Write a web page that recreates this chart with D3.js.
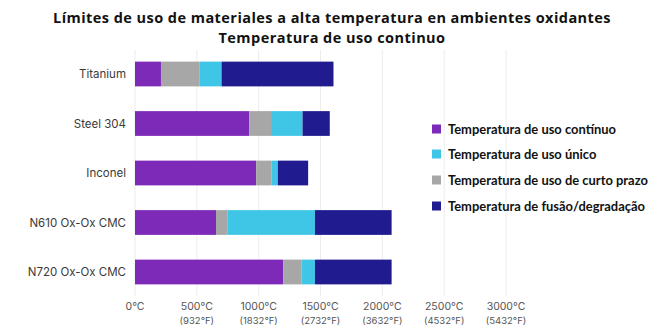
<!DOCTYPE html>
<html>
<head>
<meta charset="utf-8">
<script src="https://cdn.jsdelivr.net/npm/d3@7"></script>
<style>
  html, body { margin: 0; padding: 0; background: #fff; }
  svg { display: block; }
</style>
</head>
<body>
<svg id="chart" width="665" height="333"></svg>
<script>
// Materials and their temperature limits (°C), each limit ends one segment of the bar
const materials = ["Titanium", "Steel 304", "Inconel", "N610 Ox-Ox CMC", "N720 Ox-Ox CMC"];
const continuousUse = [210, 925, 980, 655, 1200];
const shortTermUse  = [520, 1100, 1105, 750, 1345];
const singleUse     = [700, 1355, 1155, 1455, 1455];
const meltingPoint  = [1605, 1575, 1400, 2075, 2075];

const tickValues = [0, 500, 1000, 1500, 2000, 2500, 3000];
const tickCelsius = ["0°C", "500°C", "1000°C", "1500°C", "2000°C", "2500°C", "3000°C"];
const tickFahrenheit = ["", "(932°F)", "(1832°F)", "(2732°F)", "(3632°F)", "(4532°F)", "(5432°F)"];

const seriesNames = [
  "Temperatura de uso contínuo",
  "Temperatura de uso único",
  "Temperatura de uso de curto prazo",
  "Temperatura de fusão/degradação"
];
const colors = {
  continuous: "#7e2ab8",
  single: "#3fc6e6",
  shortTerm: "#a7a7a7",
  melting: "#201b8f"
};

const svg = d3.select("#chart");

// Shrink or grow a text group's font so its widest line spans the given width
function fitWidth(group, selection, width) {
  const base = parseFloat(group.attr("font-size"));
  let widest = 0;
  selection.each(function () { widest = Math.max(widest, this.getComputedTextLength()); });
  if (widest > 0) group.attr("font-size", base * width / widest);
}

// Spread a line's letters so it spans the given width at its current size
function spreadTo(textSel, width) {
  const node = textSel.node();
  const len = node.getComputedTextLength();
  const n = node.textContent.length;
  if (n > 1) textSel.attr("letter-spacing", (width - len) / n);
}

// Title
const title = svg.append("g")
  .attr("font-family", "'Open Sans', Roboto, sans-serif")
  .attr("font-weight", "bold")
  .attr("font-size", 14.5)
  .attr("fill", "#111")
  .attr("text-anchor", "middle");
const t1 = title.append("text").attr("x", 332).attr("y", 23)
  .text("Límites de uso de materiales a alta temperatura en ambientes oxidantes");
const t2 = title.append("text").attr("x", 332).attr("y", 43)
  .text("Temperatura de uso continuo");
spreadTo(t1, 558);
t2.attr("letter-spacing", t1.attr("letter-spacing"));

const x = d3.scaleLinear().domain([0, 3000]).range([135, 506]);
const y = d3.scaleBand().domain(materials).range([50, 296])
  .paddingInner(0.5).paddingOuter(0.235);

// Vertical gridlines
svg.append("g").selectAll("line").data(tickValues).join("line")
  .attr("x1", d => x(d)).attr("x2", d => x(d))
  .attr("y1", 50).attr("y2", 296)
  .attr("stroke", "#ececec").attr("stroke-width", 1);

// Stacked segments: each runs from the previous limit to its own limit
const segments = [];
materials.forEach((m, i) => {
  const limits = [
    ["continuous", continuousUse[i]],
    ["shortTerm", shortTermUse[i]],
    ["single", singleUse[i]],
    ["melting", meltingPoint[i]]
  ];
  let start = 0;
  limits.forEach(([key, end]) => {
    segments.push({ material: m, key, start, end });
    start = end;
  });
});

svg.append("g").selectAll("rect").data(segments).join("rect")
  .attr("x", d => x(d.start))
  .attr("width", d => x(d.end) - x(d.start))
  .attr("y", d => y(d.material))
  .attr("height", y.bandwidth())
  .attr("fill", d => colors[d.key]);

// Category labels
svg.append("g")
  .attr("font-family", "Inter, 'Open Sans', sans-serif")
  .attr("font-size", 11.5)
  .attr("fill", "#3a3a3a")
  .attr("text-anchor", "end")
  .selectAll("text").data(materials).join("text")
  .attr("x", 126)
  .attr("y", d => y(d) + y.bandwidth() / 2)
  .attr("dy", "0.35em")
  .text(d => d);

// X axis labels: Celsius with Fahrenheit below
const ticks = svg.append("g")
  .attr("font-family", "Inter, 'Open Sans', sans-serif")
  .attr("fill", "#555")
  .attr("text-anchor", "middle");
ticks.selectAll("text.c").data(tickValues).join("text")
  .attr("class", "c")
  .attr("x", d => x(d))
  .attr("y", 310)
  .attr("font-size", 10.5)
  .text((d, i) => tickCelsius[i]);
ticks.selectAll("text.f").data(tickValues).join("text")
  .attr("class", "f")
  .attr("x", d => x(d))
  .attr("y", 324)
  .attr("font-size", 9.5)
  .text((d, i) => tickFahrenheit[i]);

// Legend
const legendKeys = ["continuous", "single", "shortTerm", "melting"];
const legendY = [129, 154, 180, 206];
const legend = svg.append("g")
  .attr("font-family", "Lato, 'Open Sans', sans-serif")
  .attr("font-weight", "bold")
  .attr("font-size", 12)
  .attr("fill", "#111");
const items = legend.selectAll("g").data(legendKeys).join("g")
  .attr("transform", (d, i) => `translate(432,${legendY[i]})`);
items.append("rect")
  .attr("x", 0).attr("y", -4.5).attr("width", 9).attr("height", 9)
  .attr("fill", d => colors[d]);
items.append("text")
  .attr("x", 16).attr("dy", "0.35em")
  .text((d, i) => seriesNames[i]);
fitWidth(legend, items.selectAll("text"), 200);
</script>
</body>
</html>
